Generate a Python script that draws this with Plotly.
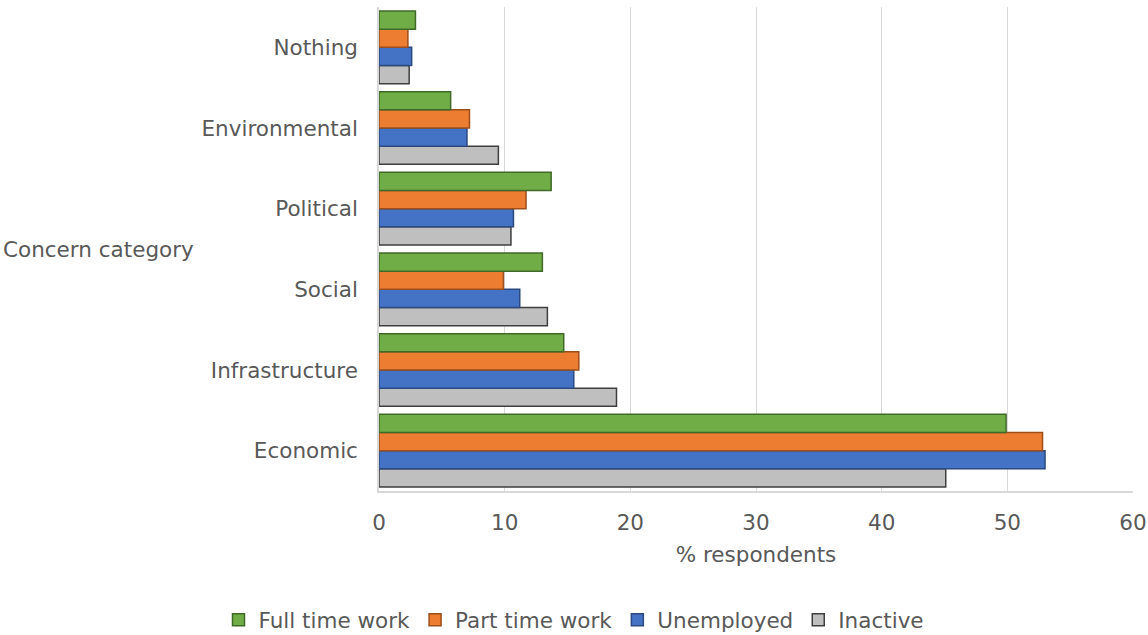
import plotly.graph_objects as go

# Concern categories, bottom to top of the chart
categories = ["Economic", "Infrastructure", "Social", "Political", "Environmental", "Nothing"]

# % respondents by employment status
full_time = [49.9, 14.7, 13.0, 13.7, 5.7, 2.9]
part_time = [52.8, 15.9, 9.9, 11.7, 7.2, 2.3]
unemployed = [53.0, 15.5, 11.2, 10.7, 7.0, 2.6]
inactive = [45.1, 18.9, 13.4, 10.5, 9.5, 2.4]

x_ticks = [0, 10, 20, 30, 40, 50, 60]

FONT = "DejaVu Sans, Verdana, sans-serif"
TEXT = "#595959"
SIZE = 21.5

# (name, values, fill, outline) -- added bottom-first so the group reads
# Full time on top and Inactive at the bottom
series = [
    ("Inactive", inactive, "#BFBFBF", "#3f3f3f"),
    ("Unemployed", unemployed, "#4472C4", "#2b4a80"),
    ("Part time work", part_time, "#ED7D31", "#9c4f1c"),
    ("Full time work", full_time, "#70AD47", "#3f6a27"),
]

fig = go.Figure()
for name, vals, fill, line in series:
    fig.add_trace(go.Bar(
        name=name, y=categories, x=vals, orientation="h",
        marker=dict(color=fill, line=dict(color=line, width=1.5)),
    ))

fig.update_layout(
    width=1148, height=635,
    margin=dict(l=379, r=15, t=7, b=144, autoexpand=False),
    paper_bgcolor="white", plot_bgcolor="white",
    barmode="group", bargap=0.1, bargroupgap=0,
    font=dict(family=FONT, size=SIZE, color=TEXT),
    showlegend=True,
    legend=dict(
        orientation="h", traceorder="reversed",
        xref="container", yref="container",
        x=0.5, xanchor="center", y=0.024, yanchor="middle",
        font=dict(size=SIZE, color=TEXT),
        itemwidth=30,
    ),
)

fig.update_xaxes(
    range=[0, 60], tickvals=x_ticks, ticktext=[str(v) for v in x_ticks],
    automargin=False,
    showgrid=True, gridcolor="#d9d9d9", gridwidth=1,
    showline=True, linecolor="#d9d9d9", linewidth=1.5,
    zeroline=False, ticks="", ticklabelstandoff=11,
    tickfont=dict(size=SIZE, color=TEXT),
    title=dict(text="% respondents", font=dict(size=SIZE, color=TEXT), standoff=13),
)
fig.update_yaxes(
    categoryorder="array", categoryarray=categories,
    automargin=False,
    showgrid=False, showline=True, linecolor="#d9d9d9", linewidth=1.5,
    ticks="", ticklabelstandoff=15,
    tickfont=dict(size=SIZE, color=TEXT),
)

fig.add_annotation(
    text="Concern category", xref="paper", yref="paper",
    x=-379 / (1148 - 379 - 15), y=0.5, xanchor="left", yanchor="middle",
    xshift=1, showarrow=False, font=dict(size=SIZE, color=TEXT),
)

fig.write_html("out.html")
